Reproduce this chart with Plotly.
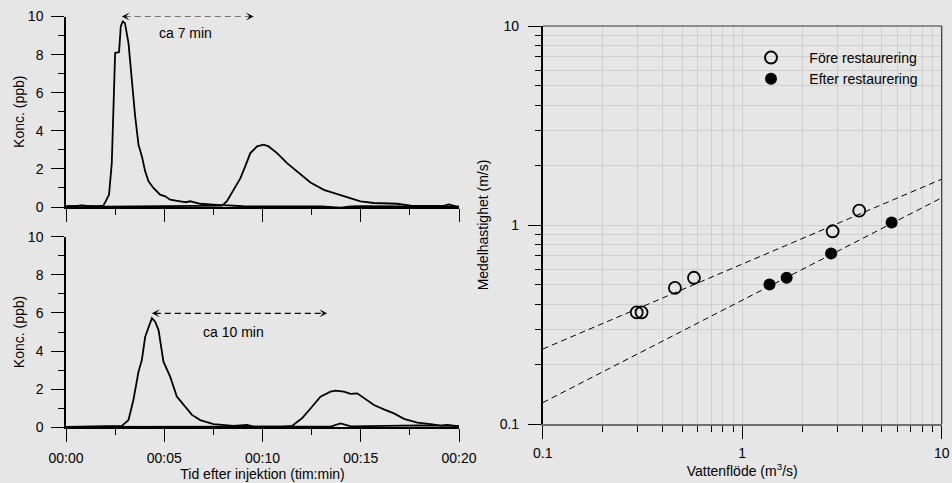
import plotly.graph_objects as go

# ---------------- data ----------------
# Top panel (before restoration): two tracer curves, time in minutes
top_t1 = [0, 0.5, 0.8, 1.2, 1.6, 1.9, 2.07, 2.19, 2.33, 2.42, 2.5, 2.7, 2.79, 2.89, 3.0, 3.18, 3.35,
          3.52, 3.69, 3.86, 4.03, 4.2, 4.45, 4.79, 5.05, 5.3, 5.81, 6.1, 6.32, 6.83, 7.5, 8.19, 9, 10,
          11, 12, 13, 13.97, 14.5, 15, 16, 17, 18, 19, 20]
top_c1 = [0.05, 0.04, 0.08, 0.03, 0.04, 0.07, 0.4, 0.65, 2.3, 5.5, 8.08, 8.13, 9.5, 9.74, 9.65, 8.6, 6.5,
          4.75, 3.27, 2.66, 1.87, 1.35, 1.0, 0.65, 0.56, 0.38, 0.3, 0.25, 0.3, 0.17, 0.12, 0.07, 0.04, 0.03,
          0.03, 0.02, 0.03, -0.04, 0.03, 0.05, 0.04, 0.06, 0.05, 0.03, 0.02]
top_t2 = [0, 0.8, 2, 4, 6, 7.5, 7.94, 8.19, 8.53, 8.87, 9.12, 9.38, 9.72, 10.06, 10.31, 10.74, 11.25,
          11.76, 12.44, 13.12, 13.63, 14.31, 14.99, 15.67, 16.86, 17.54, 18.2, 18.73, 19.2, 19.49, 19.83, 20]
top_c2 = [0.02, 0.07, 0.02, 0.03, 0.04, 0.05, 0.07, 0.3, 0.9, 1.5, 2.13, 2.83, 3.18, 3.27, 3.18, 2.83, 2.3,
          1.87, 1.29, 0.9, 0.73, 0.52, 0.3, 0.21, 0.17, 0.07, 0.08, 0.05, 0.06, 0.14, 0.03, 0.02]

# Bottom panel (after restoration)
bot_t1 = [0, 2, 2.84, 3.18, 3.43, 3.69, 3.86, 4.03, 4.2, 4.37, 4.54, 4.71, 4.96, 5.3, 5.64, 5.98, 6.41,
          6.83, 7.51, 8.53, 9.21, 9.55, 10.5, 12, 13.5, 13.97, 14.5, 16, 18, 20]
bot_c1 = [0.02, 0.03, 0.07, 0.38, 1.43, 2.92, 3.53, 4.75, 5.28, 5.72, 5.54, 5.1, 3.44, 2.66, 1.61, 1.17, 0.65,
          0.38, 0.17, 0.07, 0.12, 0.03, 0.02, 0.04, 0.05, 0.2, 0.05, 0.08, 0.1, 0.08]
bot_t2 = [0, 5, 10, 11, 11.5, 12.01, 12.52, 12.95, 13.46, 13.71, 14.14, 14.48, 14.82, 15.16, 15.67, 16.18,
          16.69, 17.2, 17.88, 18.56, 19.07, 19.4, 19.75, 20]
bot_c2 = [0.02, 0.02, 0.02, 0.03, 0.07, 0.47, 1.08, 1.61, 1.87, 1.92, 1.87, 1.75, 1.78, 1.52, 1.17, 0.94,
          0.73, 0.44, 0.24, 0.17, 0.09, 0.12, 0.07, 0.05]

time_tickvals = [0, 5, 10, 15, 20]
time_ticktext = ["00:00", "00:05", "00:10", "00:15", "00:20"]
conc_tickvals = [0, 2, 4, 6, 8, 10]

# Right panel: flow vs mean velocity
fore_q = [0.296, 0.313, 0.46, 0.573, 2.84, 3.86]
fore_v = [0.364, 0.364, 0.483, 0.543, 0.93, 1.18]
efter_q = [1.37, 1.67, 2.79, 5.61]
efter_v = [0.502, 0.543, 0.72, 1.03]
fit_q = [0.1, 10]
fore_fit_v = [0.238, 1.70]
efter_fit_v = [0.128, 1.37]

log_tickvals = [0.1, 1, 10]
log_ticktext = ["0.1", "1", "10"]
log_minor = [0.2, 0.3, 0.4, 0.5, 0.6, 0.7, 0.8, 0.9, 2, 3, 4, 5, 6, 7, 8, 9]

# ---------------- figure ----------------
FONT = "Liberation Sans, Arial, sans-serif"
BG = "#e6e6e6"
W, H = 952, 483
FS = 14

fig = go.Figure()
line_style = dict(color="black", width=1.8)
fig.add_trace(go.Scatter(x=top_t1, y=top_c1, mode="lines", line=line_style, xaxis="x", yaxis="y", showlegend=False))
fig.add_trace(go.Scatter(x=top_t2, y=top_c2, mode="lines", line=line_style, xaxis="x", yaxis="y", showlegend=False))
fig.add_trace(go.Scatter(x=bot_t1, y=bot_c1, mode="lines", line=line_style, xaxis="x2", yaxis="y2", showlegend=False))
fig.add_trace(go.Scatter(x=bot_t2, y=bot_c2, mode="lines", line=line_style, xaxis="x2", yaxis="y2", showlegend=False))

dash = "6px,4px"
fig.add_trace(go.Scatter(x=fit_q, y=fore_fit_v, mode="lines", line=dict(color="black", width=1, dash=dash),
                         xaxis="x3", yaxis="y3", showlegend=False))
fig.add_trace(go.Scatter(x=fit_q, y=efter_fit_v, mode="lines", line=dict(color="black", width=1, dash=dash),
                         xaxis="x3", yaxis="y3", showlegend=False))
pad = "\u00a0" * 4 + "\u2009"
fig.add_trace(go.Scatter(x=fore_q, y=fore_v, mode="markers", name=pad + "Före restaurering",
                         marker=dict(symbol="circle-open", size=12, color="black", line=dict(width=1.8)),
                         xaxis="x3", yaxis="y3"))
fig.add_trace(go.Scatter(x=efter_q, y=efter_v, mode="markers", name=pad + "Efter restaurering",
                         marker=dict(symbol="circle", size=12, color="black"),
                         xaxis="x3", yaxis="y3"))

# domains from pixel positions
def px_x(p):
    return p / W

def px_y(p):
    return 1 - p / H

left_dom = [px_x(66), px_x(459)]
top_dom = [px_y(207), px_y(16.5)]
bot_dom = [px_y(427.3), px_y(236.7)]
right_xdom = [px_x(542.7), px_x(941.7)]
right_ydom = [px_y(424), px_y(26)]

tfont = dict(family=FONT, size=FS, color="black")

def time_axis(dom, anchor, labels, title=None):
    d = dict(domain=dom, anchor=anchor, range=[0, 20], tickmode="array", tickvals=time_tickvals,
             ticktext=time_ticktext, showticklabels=labels, ticks="outside", ticklen=13, tickwidth=1,
             tickcolor="black", showline=True, linecolor="black", linewidth=1.5, showgrid=False,
             zeroline=False, tickfont=tfont, ticklabelstandoff=4, automargin=False,
             minor=dict(dtick=2.5, ticks="outside", ticklen=6, tickcolor="black", showgrid=False))
    if title:
        d["title"] = dict(text=title, font=tfont, standoff=0)
    return d

def conc_axis(dom, anchor):
    return dict(domain=dom, anchor=anchor, range=[0, 10], tickmode="array", tickvals=conc_tickvals,
                ticks="outside", ticklen=13, tickwidth=1, tickcolor="black", showline=True,
                linecolor="black", linewidth=1.5, showgrid=False, zeroline=False, tickfont=tfont,
                ticklabelstandoff=5, automargin=False,
                title=dict(text="Konc. (ppb)", font=tfont, standoff=0),
                minor=dict(dtick=1, ticks="outside", ticklen=6, tickcolor="black", showgrid=False))

fig.update_layout(
    width=W, height=H,
    margin=dict(l=0, r=0, t=0, b=0, autoexpand=False),
    paper_bgcolor=BG, plot_bgcolor=BG,
    font=tfont,
    xaxis=time_axis(left_dom, "y", False),
    yaxis=conc_axis(top_dom, "x"),
    xaxis2=time_axis(left_dom, "y2", True, "Tid efter injektion (tim:min)"),
    yaxis2=conc_axis(bot_dom, "x2"),
    xaxis3=dict(domain=right_xdom, anchor="y3", type="log", range=[-1, 1], tickmode="array",
                tickvals=log_tickvals, ticktext=log_ticktext, ticks="outside", ticklen=13, tickcolor="black",
                showline=True, linecolor="#6e6e6e", linewidth=2, showgrid=True, gridcolor="#cfcfcf",
                gridwidth=1, zeroline=False, tickfont=tfont, ticklabelstandoff=2, automargin=False,
                title=dict(text="Vattenflöde (m<sup>3</sup>/s)", font=tfont, standoff=0),
                minor=dict(tickmode="array", tickvals=log_minor, ticks="outside", ticklen=6,
                           tickcolor="black", showgrid=True, gridcolor="#cfcfcf", gridwidth=1)),
    yaxis3=dict(domain=right_ydom, anchor="x3", type="log", range=[-1, 1], tickmode="array",
                tickvals=log_tickvals, ticktext=log_ticktext, ticks="outside", ticklen=13, tickcolor="black",
                showline=True, linecolor="black", linewidth=1.5, showgrid=True, gridcolor="#cfcfcf",
                gridwidth=1, zeroline=False, tickfont=tfont, ticklabelstandoff=6, automargin=False,
                title=dict(text="Medelhastighet (m/s)", font=tfont, standoff=8),
                minor=dict(tickmode="array", tickvals=log_minor, ticks="outside", ticklen=6,
                           tickcolor="black", showgrid=True, gridcolor="#cfcfcf", gridwidth=1)),
    legend=dict(x=px_x(751), y=px_y(42), xanchor="left", yanchor="top", bgcolor="rgba(0,0,0,0)",
                font=tfont, itemsizing="constant"),
    showlegend=True,
)

# border of right panel (top and right)
fig.add_shape(type="line", xref="x3 domain", yref="y3 domain", x0=0, x1=1, y0=1, y1=1,
              line=dict(color="#333333", width=1.2))
fig.add_shape(type="line", xref="x3 domain", yref="y3 domain", x0=1, x1=1, y0=0, y1=1,
              line=dict(color="#333333", width=1.2))

# dashed arrows with labels
def dbl_arrow(xa, ya, x0, x1, y, label, lx, ly):
    fig.add_shape(type="line", xref=xa, yref=ya, x0=x0 + 0.15, x1=x1 - 0.15, y0=y, y1=y,
                  line=dict(color="black", width=1.2, dash="6px,4px"))
    for xh, axp in ((x0, 6), (x1, -6)):
        fig.add_annotation(x=xh, y=y, xref=xa, yref=ya, ax=axp, ay=0, text="", showarrow=True,
                           arrowhead=3, arrowsize=1.1, arrowwidth=1.2, arrowcolor="black")
    fig.add_annotation(x=lx, y=ly, xref=xa, yref=ya, text=label, showarrow=False, font=tfont)

dbl_arrow("x", "y", 2.84, 9.55, 10, "ca 7 min", 6.1, 9.16)
dbl_arrow("x2", "y2", 4.37, 13.29, 5.98, "ca 10 min", 8.53, 5.02)

fig.write_html("out.html", config={"displayModeBar": False},
               post_script="document.body.style.margin='0';document.body.style.overflow='hidden';"
                           "document.body.style.background='" + BG + "';")
